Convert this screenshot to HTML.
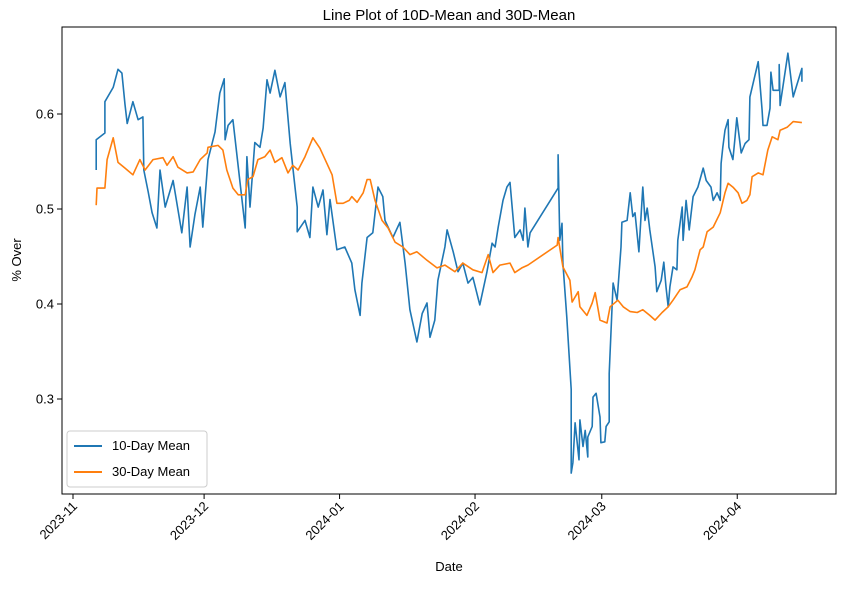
<!DOCTYPE html>
<html><head><meta charset="utf-8"><style>
body{margin:0;background:#fff}
svg{font-family:"Liberation Sans","DejaVu Sans",sans-serif}
</style></head><body>
<svg id="chart" width="846" height="584" viewBox="0 0 846 584">
<rect width="846" height="584" fill="#fff"/>
<text x="449" y="20" font-size="15" text-anchor="middle">Line Plot of 10D-Mean and 30D-Mean</text>
<text x="449" y="571" font-size="13" text-anchor="middle">Date</text>
<text transform="translate(21,260) rotate(-90)" font-size="13" text-anchor="middle">% Over</text>
<g id="plot"></g>
<rect x="62" y="27" width="774" height="467" fill="none" stroke="#000" stroke-width="1"/>
<g>
<rect x="67" y="431" width="140" height="56" rx="3" fill="#fff" fill-opacity="0.85" stroke="#ccc"/>
<line x1="74" y1="446" x2="102" y2="446" stroke="#1f77b4" stroke-width="2"/>
<text x="112" y="450" font-size="13">10-Day Mean</text>
<line x1="74" y1="472" x2="102" y2="472" stroke="#ff7f0e" stroke-width="2"/>
<text x="112" y="476" font-size="13">30-Day Mean</text>
</g>
</svg>
<script>
// days since 2023-11-01
const blueDays=[5.3,5.3,7.3,7.3,9.2,10.3,11.2,11.9,12.4,13.7,14.9,16.0,16.2,17.2,18.1,19.2,19.9,21.1,22.9,24.9,26.1,26.8,27.9,29.1,29.7,30.9,32.5,33.6,34.6,34.8,35.5,36.6,39.4,39.8,40.5,41.6,42.8,43.5,44.4,45.1,46.2,47.4,48.5,49.7,51.3,51.3,53.1,54.2,54.9,56.1,57.2,58.1,58.8,60.4,62.2,63.8,64.5,65.7,66.1,67.3,68.6,69.8,70.9,71.4,73.2,74.8,76.0,77.1,78.7,79.9,81.0,81.7,82.8,83.5,85.1,85.6,87.0,88.1,89.2,90.4,91.5,93.1,94.7,95.9,96.6,97.3,98.4,99.3,100.0,101.1,102.3,103.0,103.4,104.1,104.6,111.0,111.0,111.4,111.9,112.1,113.0,114.0,114.0,114.4,114.9,115.8,116.0,116.7,117.2,117.8,117.8,118.8,119.0,119.7,120.6,120.8,121.7,122.0,122.7,122.7,123.6,124.5,125.4,125.6,126.8,127.5,128.1,128.6,129.5,130.4,130.9,131.4,132.0,133.2,133.6,134.6,135.2,135.7,136.2,136.6,137.3,138.2,138.4,139.4,139.6,140.3,141.0,141.9,143.0,144.2,144.9,146.0,146.5,147.4,148.1,148.3,148.7,149.2,149.9,150.1,151.0,151.5,151.9,152.9,153.8,154.7,154.9,156.8,157.7,157.9,158.8,159.5,159.7,160.2,161.6,161.6,161.8,163.6,164.8,166.8,166.8];
const blueValues=[.541,.573,.58,.613,.628,.647,.643,.61,.59,.613,.594,.597,.541,.518,.496,.48,.541,.502,.53,.475,.523,.46,.494,.523,.481,.552,.581,.622,.637,.573,.588,.594,.48,.555,.502,.57,.565,.585,.636,.622,.646,.618,.633,.569,.502,.476,.488,.47,.523,.502,.52,.473,.51,.457,.46,.443,.415,.388,.422,.47,.475,.523,.513,.488,.47,.486,.443,.394,.36,.39,.401,.365,.383,.425,.46,.478,.455,.434,.443,.422,.428,.399,.433,.464,.46,.481,.509,.523,.528,.47,.478,.467,.501,.46,.475,.522,.557,.467,.485,.443,.386,.31,.222,.233,.275,.236,.278,.25,.267,.239,.26,.271,.302,.306,.281,.254,.255,.271,.276,.327,.422,.404,.46,.486,.488,.517,.492,.496,.455,.523,.488,.501,.478,.439,.413,.425,.444,.418,.397,.418,.439,.436,.467,.502,.467,.509,.478,.513,.523,.543,.53,.523,.509,.517,.509,.548,.565,.583,.594,.565,.552,.576,.596,.559,.569,.573,.618,.655,.604,.588,.588,.606,.644,.625,.625,.652,.609,.664,.618,.648,.634];
const orangeDays=[5.3,5.5,7.3,7.8,9.2,10.3,11.9,13.7,15.3,16.5,18.3,20.6,21.5,22.9,24.0,26.1,27.5,29.1,30.7,30.9,33.2,34.3,35.2,36.6,37.8,39.4,40.0,41.2,42.3,43.9,45.1,46.2,47.8,49.2,50.3,51.5,53.1,54.9,56.5,58.1,59.3,60.4,61.8,63.2,63.8,65.0,66.4,67.3,68.0,69.1,70.7,72.1,73.7,75.5,77.1,78.7,81.0,83.3,85.1,87.4,89.2,91.5,93.6,95.0,96.1,97.7,100.0,101.1,102.7,104.1,110.8,111.0,112.1,113.7,114.2,115.6,116.0,117.6,118.8,119.5,120.6,122.2,122.9,124.7,125.9,127.5,129.1,130.4,132.0,133.2,134.8,136.2,137.3,138.9,140.5,141.6,142.3,143.5,144.2,145.1,146.5,148.1,149.2,149.9,151.0,152.2,153.1,154.2,154.9,155.4,156.8,157.9,159.0,160.0,161.3,161.8,163.4,164.8,166.8];
const orangeValues=[.504,.522,.522,.552,.575,.549,.543,.536,.552,.541,.552,.554,.546,.555,.544,.538,.539,.552,.559,.565,.567,.562,.541,.522,.515,.515,.531,.534,.552,.555,.562,.549,.554,.538,.546,.541,.555,.575,.564,.548,.536,.506,.506,.509,.513,.507,.517,.531,.531,.509,.488,.48,.465,.46,.452,.455,.446,.438,.441,.434,.443,.436,.433,.452,.433,.441,.443,.433,.438,.441,.462,.47,.439,.425,.402,.413,.397,.388,.401,.412,.383,.38,.397,.404,.397,.392,.391,.394,.388,.383,.391,.397,.404,.415,.418,.428,.436,.457,.46,.476,.481,.496,.517,.527,.523,.517,.506,.509,.515,.534,.538,.536,.562,.576,.573,.583,.586,.592,.591];
const xTickDays=[0,30,61,92,121,152];
const xTickLabels=["2023-11","2023-12","2024-01","2024-02","2024-03","2024-04"];
const yTickValues=[0.3,0.4,0.5,0.6];
const yTickLabels=["0.3","0.4","0.5","0.6"];

const NS="http://www.w3.org/2000/svg";
const X=d=>73+d*4.37;
const Y=v=>209-(v-0.5)*950;
const plot=document.getElementById('plot');
function mk(t,a){const e=document.createElementNS(NS,t);for(const k in a)e.setAttribute(k,a[k]);plot.appendChild(e);return e;}
xTickDays.forEach((d,i)=>{
  const x=X(d);
  const t=mk('line',{x1:x,x2:x,y1:494,y2:499,stroke:'#000'});
  
  
  const l=mk('text',{'font-size':13,'text-anchor':'end',transform:`translate(${x+5},507) rotate(-45)`});
  l.textContent=xTickLabels[i];
  
  
});
yTickValues.forEach((v,i)=>{
  const y=Y(v);
  const t=mk('line',{x1:57,x2:62,y1:y,y2:y,stroke:'#000'});
  
  
  const l=mk('text',{x:54,y:y+4.5,'font-size':13,'text-anchor':'end'});
  l.textContent=yTickLabels[i];
  
  
});
function series(days,vals,color,name){
  const pts=days.map((d,i)=>X(d).toFixed(1)+','+Y(vals[i]).toFixed(1)).join(' ');
  const p=mk('polyline',{points:pts,fill:'none',stroke:color,'stroke-width':1.6,'stroke-linejoin':'round'});
  
  
}
series(blueDays,blueValues,'#1f77b4','line-10-day-mean');
series(orangeDays,orangeValues,'#ff7f0e','line-30-day-mean');
</script>
</body></html>
